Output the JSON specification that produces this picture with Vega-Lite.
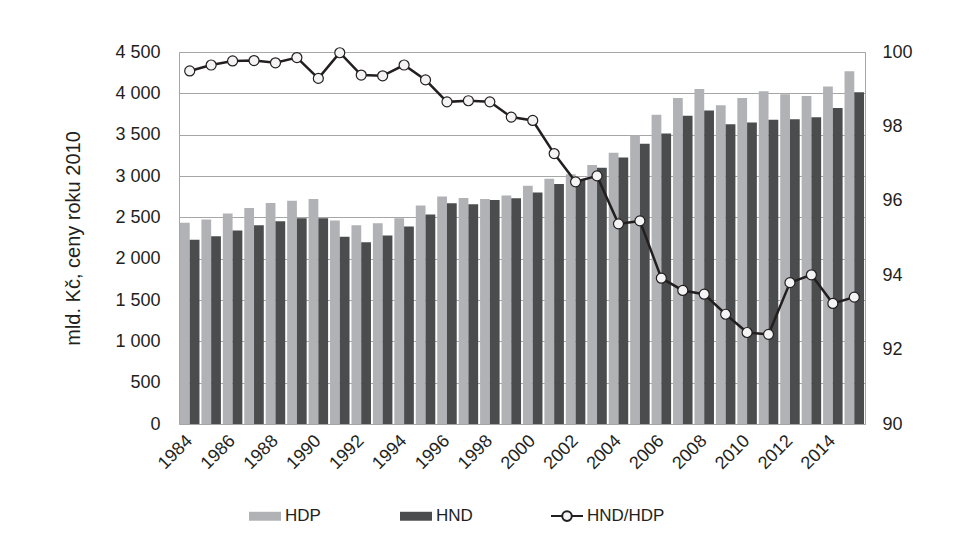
{
  "$schema": "https://vega.github.io/schema/vega-lite/v6.json",
  "width": 686,
  "height": 372,
  "autosize": {"type": "none"},
  "padding": {"left": 179, "top": 52, "right": 102, "bottom": 129},
  "background": "white",
  "config": {
    "font": "Liberation Sans",
    "view": {"stroke": "#a6a6a6", "strokeWidth": 1},
    "axis": {"labelColor": "#231f20", "titleColor": "#231f20", "labelFont": "Liberation Sans", "titleFont": "Liberation Sans"},
    "legend": {"labelColor": "#231f20", "labelFont": "Liberation Sans"}
  },
  "data": {
    "values": [
      {"year": 1984, "HDP": 2433, "HND": 2228, "ratio": 99.49},
      {"year": 1985, "HDP": 2473, "HND": 2272, "ratio": 99.65},
      {"year": 1986, "HDP": 2545, "HND": 2340, "ratio": 99.76},
      {"year": 1987, "HDP": 2614, "HND": 2405, "ratio": 99.77},
      {"year": 1988, "HDP": 2674, "HND": 2453, "ratio": 99.71},
      {"year": 1989, "HDP": 2702, "HND": 2489, "ratio": 99.85},
      {"year": 1990, "HDP": 2722, "HND": 2489, "ratio": 99.29},
      {"year": 1991, "HDP": 2461, "HND": 2264, "ratio": 99.98},
      {"year": 1992, "HDP": 2405, "HND": 2200, "ratio": 99.38},
      {"year": 1993, "HDP": 2429, "HND": 2280, "ratio": 99.36},
      {"year": 1994, "HDP": 2489, "HND": 2389, "ratio": 99.65},
      {"year": 1995, "HDP": 2642, "HND": 2533, "ratio": 99.25},
      {"year": 1996, "HDP": 2751, "HND": 2670, "ratio": 98.66},
      {"year": 1997, "HDP": 2735, "HND": 2658, "ratio": 98.69},
      {"year": 1998, "HDP": 2722, "HND": 2710, "ratio": 98.66},
      {"year": 1999, "HDP": 2763, "HND": 2730, "ratio": 98.25},
      {"year": 2000, "HDP": 2883, "HND": 2799, "ratio": 98.16},
      {"year": 2001, "HDP": 2968, "HND": 2904, "ratio": 97.27},
      {"year": 2002, "HDP": 3020, "HND": 2955, "ratio": 96.51},
      {"year": 2003, "HDP": 3133, "HND": 3100, "ratio": 96.67},
      {"year": 2004, "HDP": 3281, "HND": 3225, "ratio": 95.38},
      {"year": 2005, "HDP": 3490, "HND": 3390, "ratio": 95.46},
      {"year": 2006, "HDP": 3740, "HND": 3514, "ratio": 93.92},
      {"year": 2007, "HDP": 3945, "HND": 3728, "ratio": 93.59},
      {"year": 2008, "HDP": 4053, "HND": 3792, "ratio": 93.49},
      {"year": 2009, "HDP": 3856, "HND": 3627, "ratio": 92.95},
      {"year": 2010, "HDP": 3945, "HND": 3647, "ratio": 92.46},
      {"year": 2011, "HDP": 4026, "HND": 3680, "ratio": 92.41},
      {"year": 2012, "HDP": 3990, "HND": 3688, "ratio": 93.80},
      {"year": 2013, "HDP": 3969, "HND": 3712, "ratio": 94.01},
      {"year": 2014, "HDP": 4082, "HND": 3824, "ratio": 93.24},
      {"year": 2015, "HDP": 4267, "HND": 4014, "ratio": 93.41}
    ]
  },
  "encoding": {
    "x": {
      "field": "year",
      "type": "ordinal",
      "scale": {"paddingInner": 0.09, "paddingOuter": 0.045},
      "axis": {
        "title": null,
        "values": [1984, 1986, 1988, 1990, 1992, 1994, 1996, 1998, 2000, 2002, 2004, 2006, 2008, 2010, 2012, 2014],
        "labelAngle": -45,
        "labelAlign": "right",
        "labelBaseline": "middle",
        "labelFontSize": 18,
        "labelPadding": 14,
        "ticks": false,
        "domain": false,
        "grid": false
      }
    }
  },
  "layer": [
    {
      "transform": [{"fold": ["HDP", "HND"], "as": ["series", "value"]}],
      "mark": {"type": "bar"},
      "encoding": {
        "xOffset": {"field": "series", "type": "nominal", "scale": {"paddingInner": 0, "paddingOuter": 0}},
        "y": {
          "field": "value",
          "type": "quantitative",
          "scale": {"domain": [0, 4500], "nice": false},
          "axis": {
            "title": "mld. Kč, ceny roku 2010",
            "titleFontSize": 20,
            "titleFontWeight": "normal",
            "titlePadding": 31,
            "values": [0, 500, 1000, 1500, 2000, 2500, 3000, 3500, 4000, 4500],
            "labelExpr": "replace(format(datum.value, ','), ',', ' ')",
            "labelFontSize": 18,
            "labelPadding": 19,
            "ticks": false,
            "domain": false,
            "grid": true,
            "gridColor": "#a6a6a6",
            "gridWidth": 1
          }
        },
        "color": {
          "field": "series",
          "type": "nominal",
          "scale": {"domain": ["HDP", "HND", "HND/HDP"], "range": ["#b1b2b5", "#4b4c4e", "#f4f4f4"]},
          "legend": {
            "orient": "none",
            "legendX": 69,
            "legendY": 447,
            "direction": "horizontal",
            "title": null,
            "symbolSize": 1024,
            "symbolType": "M-1,-0.28H1V0.28H-1Z",
            "labelFontSize": 17,
            "labelOffset": 3,
            "columnPadding": 33,
            "gridAlign": "all",
            "encode": {
              "symbols": {
                "update": {
                  "shape": {"signal": "datum.value === 'HND/HDP' ? 'M-1,0H-0.3M0.3,0H1M0.3,0A0.3,0.3 0 1,1 -0.3,0A0.3,0.3 0 1,1 0.3,0' : 'M-1,-0.28H1V0.28H-1Z'"},
                  "fill": {"signal": "scale('color', datum.value)"},
                  "stroke": {"signal": "datum.value === 'HND/HDP' ? '#231f20' : 'transparent'"},
                  "strokeWidth": {"value": 2},
                  "opacity": {"value": 1},
                  "fillOpacity": {"value": 1}
                }
              }
            }
          }
        }
      }
    },
    {
      "layer": [
        {
          "mark": {"type": "line", "strokeWidth": 2.5, "stroke": "#231f20"},
          "encoding": {
            "y": {
              "field": "ratio",
              "type": "quantitative",
              "scale": {"domain": [90, 100], "nice": false, "zero": false},
              "axis": {
                "orient": "right",
                "title": null,
                "values": [90, 92, 94, 96, 98, 100],
                "labelFontSize": 18,
                "labelPadding": 17,
                "ticks": false,
                "domain": false,
                "grid": false
              }
            }
          }
        },
        {
          "mark": {"type": "point", "filled": true, "fill": "#f4f4f4", "stroke": "#231f20", "strokeWidth": 1.2, "size": 100, "opacity": 1},
          "encoding": {
            "y": {"field": "ratio", "type": "quantitative"}
          }
        }
      ]
    }
  ],
  "resolve": {"scale": {"y": "independent"}}
}
